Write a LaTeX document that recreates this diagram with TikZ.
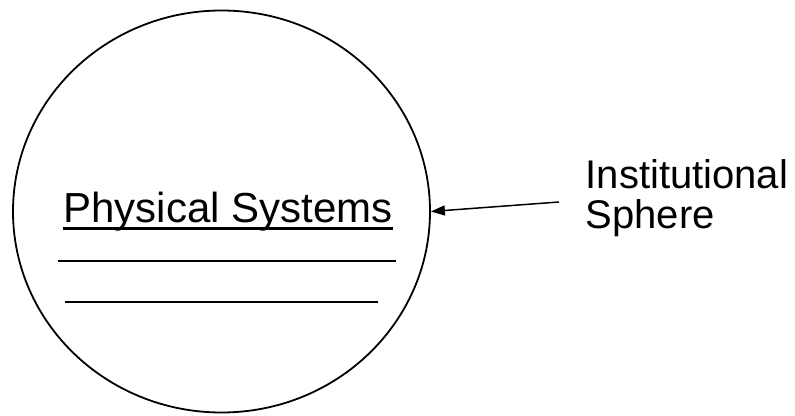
\documentclass[tikz,border=0pt]{standalone}
\usepackage{fontspec}
\setmainfont{Liberation Sans}
\usetikzlibrary{shapes.geometric}
\usetikzlibrary{arrows.meta}
\newcommand{\ulword}[1]{\setbox0\hbox{#1}\rlap{\rule[-7.5pt]{\wd0}{3pt}}\box0}

\begin{document}
\begin{tikzpicture}[x=1pt,y=-1pt,line width=1.5pt,
sphereblock/.style={draw,ellipse,inner sep=0pt,minimum width=417pt,minimum height=402pt,line width=1.8pt},
title/.style={font=\fontsize{42}{48}\selectfont,inner sep=0pt,anchor=base},
tag/.style={font=\fontsize{40}{40}\selectfont,align=left,inner sep=0pt,anchor=base west},
blank/.style={line width=1.3pt}]

\useasboundingbox (0,0) rectangle (795,415);
\draw (221.5,211.5) node[sphereblock] (S) {};
\draw (228,222) node[title] (P) {\ulword{Physical Systems}};
\draw[blank] (58,261) -- (396,261);
\draw[blank] (65,302) -- (378,302);
\draw (585,228) node[tag] (I) {Institutional\\Sphere};
\coordinate (T) at (559,202);
\draw[-{Triangle[length=14pt,width=10pt]}] (T) -- (S.east);

\end{tikzpicture}
\end{document}
